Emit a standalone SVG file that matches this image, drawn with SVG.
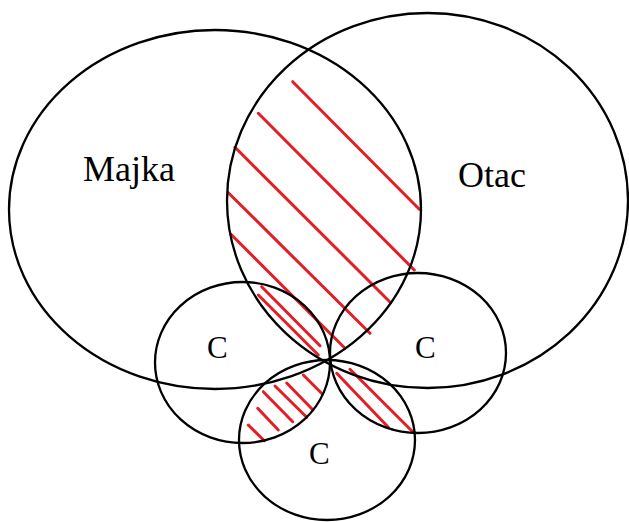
<svg xmlns="http://www.w3.org/2000/svg" width="629" height="522" viewBox="0 0 629 522">
<style>
.o{fill:none;stroke:#000;stroke-width:2.3}
.h{stroke:#e31e24;stroke-width:3;stroke-linecap:round}
.t{font-family:"Liberation Serif","Times New Roman",serif;fill:#000}
.big{font-size:36px}
.sm{font-size:31px}
</style>
<rect width="629" height="522" fill="#fff"/>
<g id="hatching">
<line class="h" x1="292.7" y1="81.7" x2="419.3" y2="209.3"/>
<line class="h" x1="258.3" y1="113.3" x2="414.3" y2="270"/>
<line class="h" x1="235" y1="147.3" x2="390.7" y2="302.7"/>
<line class="h" x1="228.3" y1="192.7" x2="370" y2="333.3"/>
<line class="h" x1="230.7" y1="234" x2="345" y2="348.3"/>
<line class="h" x1="261.7" y1="286.7" x2="320" y2="345.7"/>
<line class="h" x1="258.3" y1="295" x2="318.3" y2="355"/>
<line class="h" x1="303.3" y1="375" x2="322.3" y2="394"/>
<line class="h" x1="286.7" y1="383" x2="313" y2="410"/>
<line class="h" x1="275" y1="386" x2="306.7" y2="417.3"/>
<line class="h" x1="263.3" y1="391.7" x2="292.7" y2="421.7"/>
<line class="h" x1="257.7" y1="408.3" x2="278.3" y2="430"/>
<line class="h" x1="248.3" y1="425" x2="264.3" y2="440.7"/>
<line class="h" x1="350" y1="369.3" x2="412.7" y2="431.7"/>
<line class="h" x1="336.7" y1="373.3" x2="388.3" y2="427.3"/>
</g>
<g id="majka">
<ellipse class="o" cx="215" cy="209.5" rx="206" ry="179.5"/>
<text class="t big" x="83" y="181">Majka</text>
</g>
<g id="otac">
<ellipse class="o" cx="427.5" cy="200.5" rx="200.5" ry="187.5"/>
<text class="t big" x="458" y="187">Otac</text>
</g>
<g id="c-left">
<ellipse class="o" cx="242.5" cy="362.5" rx="87.5" ry="80.5"/>
<text class="t sm" x="207" y="358">C</text>
</g>
<g id="c-right">
<ellipse class="o" cx="418" cy="353" rx="88" ry="80"/>
<text class="t sm" x="415" y="358">C</text>
</g>
<g id="c-bottom">
<ellipse class="o" cx="327" cy="440" rx="88" ry="80"/>
<text class="t sm" x="309" y="464">C</text>
</g>
</svg>
